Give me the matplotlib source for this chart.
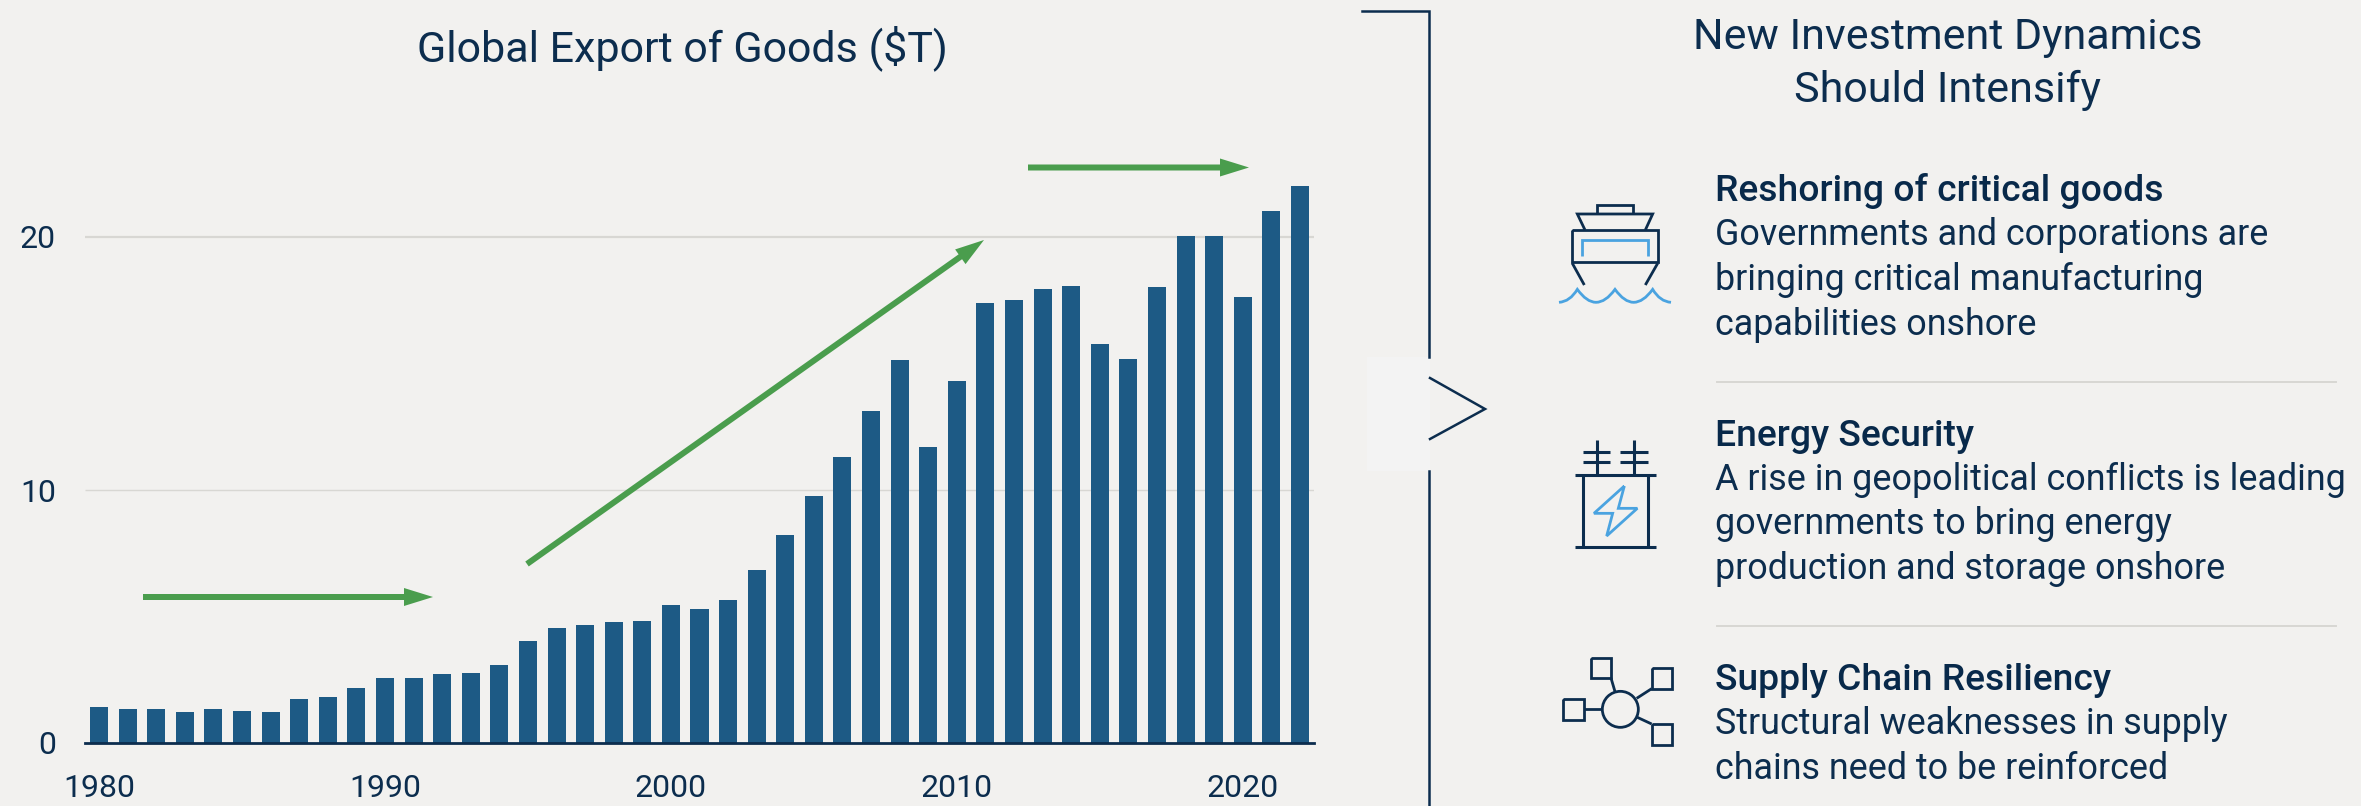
import matplotlib
matplotlib.use('Agg')
import matplotlib.pyplot as plt
from matplotlib.patches import FancyArrow, PathPatch, Circle, Rectangle
from matplotlib.path import Path

W, H = 2361, 806
BG = '#f2f1ef'
NAVY = '#0c2d4e'
BLUE = '#4aa3e0'
BAR = '#1d5a85'
GREEN = '#4a9d4d'
GREY = '#d8d7d3'

plt.rcParams['font.family'] = ['Roboto', 'DejaVu Sans']

years = list(range(1980, 2023))
exports = [1.43, 1.33, 1.33, 1.21, 1.33, 1.26, 1.21, 1.72, 1.82, 2.16,
           2.57, 2.57, 2.71, 2.78, 3.08, 4.02, 4.53, 4.65, 4.79, 4.84,
           5.47, 5.28, 5.66, 6.85, 8.23, 9.78, 11.29, 13.12, 15.13, 11.69,
           14.31, 17.38, 17.51, 17.94, 18.07, 15.76, 15.18, 18.02, 20.03, 20.03,
           17.63, 21.04, 22.03]
x_ticks = [1980, 1990, 2000, 2010, 2020]
y_ticks = [0, 10, 20]

chart_title = "Global Export of Goods ($T)"
panel_title = ["New Investment Dynamics", "Should Intensify"]
headings = ["Reshoring of critical goods", "Energy Security", "Supply Chain Resiliency"]
bodies = [
    ["Governments and corporations are", "bringing critical manufacturing", "capabilities onshore"],
    ["A rise in geopolitical conflicts is leading", "governments to bring energy", "production and storage onshore"],
    ["Structural weaknesses in supply", "chains need to be reinforced"],
]

fig = plt.figure(figsize=(W / 100, H / 100), dpi=100, facecolor=BG)

# bar chart, axes placed in pixels
left, right, bottom, top = 85, 1314, 743, 150
ax = fig.add_axes([left / W, 1 - bottom / H, (right - left) / W, (bottom - top) / H])
ax.set_facecolor('none')
ax.bar(years, exports, width=0.63, color=BAR, zorder=3)
ax.set_xlim(1979.51, 2022.49)
ax.set_ylim(0, (bottom - top) / 25.3)
for s in ['top', 'left', 'right']:
    ax.spines[s].set_visible(False)
ax.spines['bottom'].set_color(NAVY)
ax.spines['bottom'].set_linewidth(2)
ax.spines['bottom'].set_zorder(4)
ax.set_xticks(x_ticks)
ax.set_yticks(y_ticks)
ax.tick_params(length=0, labelsize=23, labelcolor=NAVY, pad=0)
ax.tick_params(axis='x', pad=22)
ax.tick_params(axis='y', pad=21)
ax.hlines(10, 1979.51, 2022.49, color=GREY, lw=1, zorder=1)
ax.hlines(20, 1979.51, 2022.49, color=GREY, lw=1.6, zorder=1)

# overlay in pixel coordinates for arrows, icons and text
ov = fig.add_axes([0, 0, 1, 1])
ov.set_xlim(0, W)
ov.set_ylim(H, 0)
ov.axis('off')
ov.patch.set_alpha(0)


def arrow(x0, y0, x1, y1):
    ov.add_patch(FancyArrow(x0, y0, x1 - x0, y1 - y0, width=6, head_width=18, head_length=29,
                            length_includes_head=True, color=GREEN, lw=0))


arrow(143, 597, 433, 597)
arrow(527, 564, 984, 240)
arrow(1028, 167.5, 1249, 167.5)

ov.text(682, 48, chart_title, fontsize=31, color=NAVY, ha='center', va='center')

# bracket and chevron between the panels
ov.plot([1362, 1429, 1429], [11, 11, 357], color=NAVY, lw=1.8, solid_joinstyle='miter')
ov.plot([1429, 1429], [471, H], color=NAVY, lw=1.8)
ov.add_patch(Rectangle((1367, 357), 63, 114, color='#f3f3f3', lw=0))
ov.plot([1430, 1485, 1430], [378, 409, 439], color=NAVY, lw=1.8, solid_joinstyle='miter')

for i, line in enumerate(panel_title):
    ov.text(1948, 38 + i * 52, line, fontsize=31, color=NAVY, ha='center', va='center')

head_y = [191, 436, 680]
body_y = [[235, 280, 325], [480, 524, 569], [724, 769]]
for head, y, lines, ys in zip(headings, head_y, bodies, body_y):
    ov.text(1715, y, head, fontsize=26.8, color='#08294a', ha='left', va='center', fontweight='medium')
    for line, ly in zip(lines, ys):
        ov.text(1715, ly, line, fontsize=25.8, color=NAVY, ha='left', va='center')
for y in [382, 626]:
    ov.plot([1717, 2336], [y, y], color=GREY, lw=1.4)


def line(pts, ox, oy, color=NAVY, lw=2.0, close=False):
    xs = [ox + p[0] / 3 for p in pts]
    ys = [oy + p[1] / 3 for p in pts]
    if close:
        xs.append(xs[0])
        ys.append(ys[0])
    ov.plot(xs, ys, color=color, lw=lw, solid_joinstyle='miter', solid_capstyle='butt')


# ship icon
sx, sy = 1340, 0
line([(772, 640), (772, 615), (878, 615), (878, 640)], sx, sy)
line([(735, 690), (712, 642), (938, 642), (916, 690)], sx, sy)
line([(697, 690), (953, 690), (953, 787), (697, 787)], sx, sy, close=True)
line([(697, 790), (733, 855)], sx, sy)
line([(953, 790), (916, 855)], sx, sy)
line([(726, 767), (726, 720), (924, 720), (924, 767)], sx, sy, color=BLUE)
wave = [(657, 907), (690, 905), (712, 868), (740, 907), (768, 907), (797, 907), (825, 868),
        (853, 907), (881, 907), (910, 907), (938, 868), (960, 905), (993, 907)]
codes = [Path.MOVETO] + [Path.CURVE3] * 12
ov.add_patch(PathPatch(Path([(sx + a / 3, sy + b / 3) for a, b in wave], codes),
                       fill=False, edgecolor=BLUE, lw=2))

# energy icon
ex, ey = 1500, 400
line([(224, 226), (468, 226)], ex, ey, lw=2.2)
line([(224, 440), (468, 440)], ex, ey, lw=2.2)
line([(250, 226), (250, 440)], ex, ey, lw=2.2)
line([(444, 226), (444, 440)], ex, ey, lw=2.2)
for px, x0, x1 in [(290, 249, 331), (402, 361, 444)]:
    line([(px, 120), (px, 226)], ex, ey, lw=2.2)
    line([(x0, 155), (x1, 155)], ex, ey, lw=2.2)
    line([(x0, 185), (x1, 185)], ex, ey, lw=2.2)
line([(373, 258), (282, 340), (338, 340), (320, 408), (412, 325), (355, 325)], ex, ey, color=BLUE, close=True)

# network icon
nx, ny = 1500, 400
ov.add_patch(Circle((nx + 361 / 3, ny + 928 / 3), 54 / 3, fill=False, edgecolor=NAVY, lw=2))
for x0, y0, x1, y1 in [(272, 773, 334, 834), (455, 805, 517, 866), (190, 898, 251, 959), (455, 972, 517, 1034)]:
    line([(x0, y0), (x1, y0), (x1, y1), (x0, y1)], nx, ny, close=True)
line([(333, 834), (345, 875)], nx, ny)
line([(455, 866), (410, 895)], nx, ny)
line([(251, 928), (307, 928)], nx, ny)
line([(455, 972), (412, 952)], nx, ny)

fig.savefig('out.png', dpi=100, facecolor=BG)
